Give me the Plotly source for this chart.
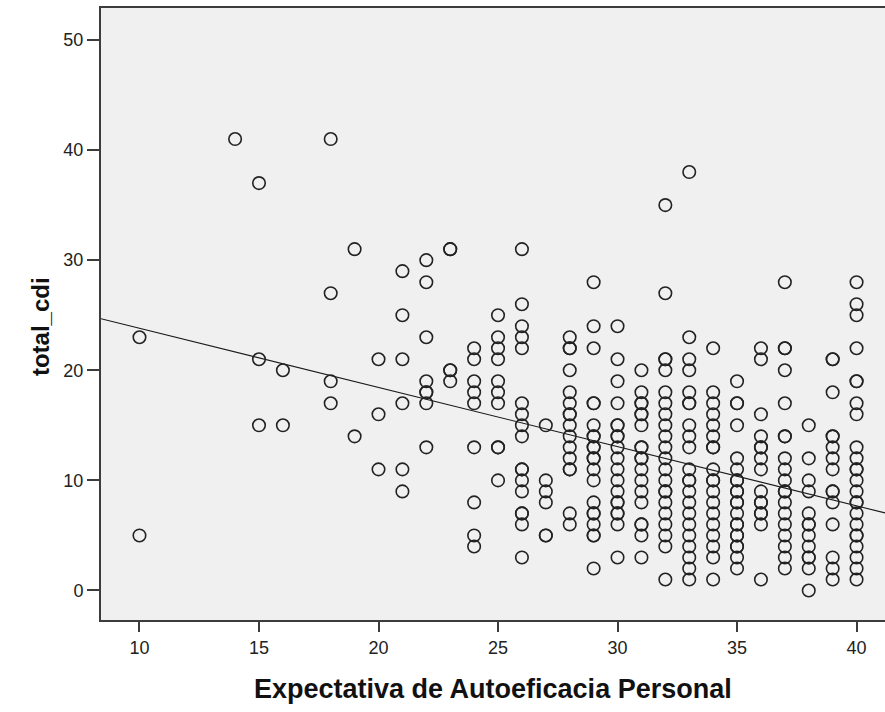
import plotly.graph_objects as go

# Expectativa de Autoeficacia Personal (x) and total_cdi (y), one pair per case,
# grouped by x value.
autoeficacia = (
    [10] * 2 + [14] * 1 + [15] * 3 + [16] * 2 + [18] * 4 + [19] * 2 + [20] * 3
    + [21] * 6 + [22] * 8 + [23] * 5 + [24] * 9 + [25] * 10 + [26] * 17
    + [27] * 6 + [28] * 16 + [29] * 21 + [30] * 19 + [31] * 19 + [32] * 22
    + [33] * 22 + [34] * 19 + [35] * 21 + [36] * 15 + [37] * 19 + [38] * 13
    + [39] * 15 + [40] * 24
)
total_cdi = [
    23, 5,                                                    # 10
    41,                                                       # 14
    37, 21, 15,                                               # 15
    20, 15,                                                   # 16
    41, 27, 19, 17,                                           # 18
    31, 14,                                                   # 19
    21, 16, 11,                                               # 20
    29, 25, 21, 17, 11, 9,                                    # 21
    30, 28, 23, 19, 18, 18, 17, 13,                           # 22
    31, 31, 20, 20, 19,                                       # 23
    22, 21, 19, 18, 17, 13, 8, 5, 4,                          # 24
    25, 23, 22, 21, 19, 18, 17, 13, 13, 10,                   # 25
    31, 26, 24, 23, 22, 17, 16, 15, 14, 11, 11, 10, 9, 7, 7, 6, 3,   # 26
    15, 10, 9, 8, 5, 5,                                       # 27
    23, 22, 22, 20, 18, 17, 16, 16, 15, 14, 13, 12, 11, 11, 7, 6,    # 28
    28, 24, 22, 17, 17, 15, 14, 14, 13, 13, 12, 12, 11, 10, 8, 7, 7, 6, 5, 5, 2,  # 29
    24, 21, 19, 17, 15, 15, 14, 14, 13, 12, 11, 10, 9, 8, 8, 7, 7, 6, 3,  # 30
    20, 18, 17, 17, 16, 16, 15, 13, 13, 12, 12, 11, 10, 9, 8, 6, 6, 5, 3,  # 31
    35, 27, 21, 21, 20, 18, 17, 16, 15, 14, 13, 12, 11, 10, 9, 9, 8, 7, 6, 5, 4, 1,  # 32
    38, 23, 21, 20, 18, 17, 17, 15, 14, 13, 11, 10, 10, 9, 8, 7, 6, 5, 4, 3, 2, 1,  # 33
    22, 18, 17, 16, 15, 14, 13, 13, 11, 10, 10, 9, 8, 7, 6, 5, 4, 3, 1,  # 34
    19, 17, 17, 15, 12, 11, 10, 10, 9, 9, 8, 8, 7, 6, 6, 5, 5, 4, 4, 3, 2,  # 35
    22, 21, 16, 14, 13, 13, 12, 11, 9, 8, 8, 7, 7, 6, 1,      # 36
    28, 22, 22, 20, 17, 14, 14, 12, 11, 10, 9, 9, 8, 7, 6, 5, 4, 3, 2,  # 37
    15, 12, 10, 9, 7, 6, 6, 5, 4, 3, 3, 2, 0,                 # 38
    21, 21, 18, 14, 14, 13, 12, 11, 9, 9, 8, 6, 3, 2, 1,      # 39
    28, 26, 25, 22, 19, 19, 17, 16, 13, 12, 11, 11, 10, 9, 8, 8, 7, 6, 5, 5, 4, 3, 2, 1,  # 40
]

x_ticks = [10, 15, 20, 25, 30, 35, 40]
y_ticks = [0, 10, 20, 30, 40, 50]

x_title = "Expectativa de Autoeficacia Personal"
y_title = "total_cdi"

# Linear fit line: total_cdi = fit_intercept + fit_slope * x
fit_intercept = 29.19
fit_slope = -0.5376

x_range = [8.39, 41.19]
y_range = [-2.68, 52.9]

fit_x = x_range
fit_y = [fit_intercept + fit_slope * v for v in fit_x]

axis_color = "#3c3c3c"
font_family = "Liberation Sans, Arial, sans-serif"

fig = go.Figure()
fig.add_trace(go.Scatter(
    x=fit_x, y=fit_y, mode="lines",
    line=dict(color="#1a1a1a", width=1.1),
    hoverinfo="skip", showlegend=False,
))
fig.add_trace(go.Scatter(
    x=autoeficacia, y=total_cdi, mode="markers",
    marker=dict(symbol="circle-open", size=12.5,
                color="#222222", line=dict(width=1.6, color="#222222")),
    showlegend=False,
))

fig.update_layout(
    width=885, height=712,
    margin=dict(l=101, r=0, t=8, b=92),
    paper_bgcolor="white",
    plot_bgcolor="#f0f0f0",
    font=dict(family=font_family, color="#222222"),
    xaxis=dict(
        range=x_range, tickvals=x_ticks, showgrid=False, zeroline=False,
        showline=True, linecolor=axis_color, linewidth=2, mirror=True,
        ticks="outside", ticklen=10, tickwidth=1.5, tickcolor=axis_color,
        tickfont=dict(size=18, color="#222222"),
    ),
    yaxis=dict(
        range=y_range, tickvals=y_ticks, showgrid=False, zeroline=False,
        showline=True, linecolor=axis_color, linewidth=2,
        ticks="outside", ticklen=12, tickwidth=1.5, tickcolor=axis_color,
        tickfont=dict(size=18, color="#222222"),
    ),
    annotations=[
        dict(text=f"<b>{x_title}</b>", xref="paper", yref="paper",
             x=0.5, y=-0.112, xanchor="center", yanchor="middle",
             showarrow=False, font=dict(size=27, color="#111111")),
        dict(text=f"<b>{y_title}</b>", xref="paper", yref="paper",
             x=-0.078, y=0.48, xanchor="center", yanchor="middle",
             textangle=-90, showarrow=False,
             font=dict(size=24, color="#111111")),
    ],
)

fig.write_html("out.html")
